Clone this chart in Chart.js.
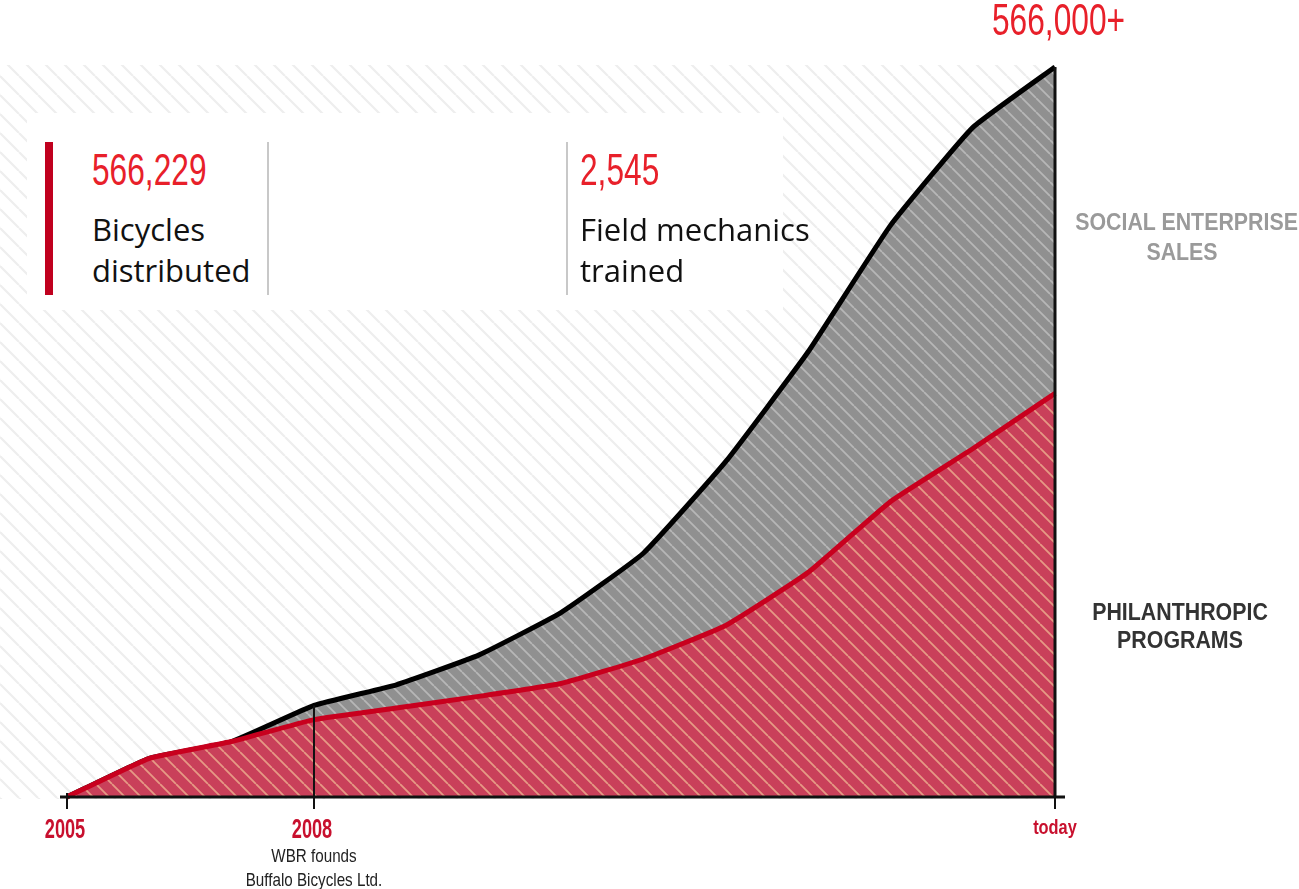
<!DOCTYPE html>
<html>
<head>
<meta charset="utf-8">
<script src="https://cdn.jsdelivr.net/npm/chart.js@4.4.1/dist/chart.umd.min.js"></script>
<style>
  body { margin: 0; background: #fff; }
  #wrap { position: relative; width: 1299px; height: 889px; overflow: hidden; }
  canvas { position: absolute; left: 0; top: 0; }
  .narrow { font-family: 'Liberation Sans', Arial, sans-serif; white-space: nowrap; }
  #card { position: absolute; left: 27px; top: 113px; width: 756px; height: 197px; background: #fff; }
  .bar { position: absolute; top: 29px; height: 153px; }
  .stat { position: absolute; top: 35px; white-space: nowrap; }
  .stat .num { color: #e8202a; font-size: 44px; line-height: 44px; transform: scaleX(0.72); transform-origin: left center; }
  .stat .txt { font-family: 'Open Sans', 'Noto Sans', sans-serif; font-size: 31px; line-height: 41px; color: #111; margin-top: 17px; }
  .side { position: absolute; font-weight: bold; font-size: 24px; line-height: 29px; text-align: center; transform: scaleX(0.89); transform-origin: center; }
</style>
</head>
<body>
<div id="wrap">
  <canvas id="areaChart" width="1299" height="889"></canvas>

  <div class="narrow" style="position:absolute; left:992px; top:-2px; color:#e8202a; font-size:44px; line-height:44px; transform:scaleX(0.72); transform-origin:left center;">566,000+</div>

  <div id="card">
    <div class="bar" style="left:18px; width:8px; background:#c0001e;"></div>
    <div class="stat" style="left:65px;">
      <div class="num narrow">566,229</div>
      <div class="txt">Bicycles<br>distributed</div>
    </div>
    <div class="bar" style="left:240px; width:2px; background:#c8c8c8;"></div>
    <div class="bar" style="left:539px; width:2px; background:#c8c8c8;"></div>
    <div class="stat" style="left:553px;">
      <div class="num narrow">2,545</div>
      <div class="txt">Field mechanics<br>trained</div>
    </div>
  </div>

  <div class="side narrow" style="left:1062px; top:207px; width:240px; line-height:30px; color:#9a9a9a;">SOCIAL ENTERPRISE<br>SALES</div>
  <div class="side narrow" style="left:1060px; top:598px; width:240px; line-height:28px; color:#333;">PHILANTHROPIC<br>PROGRAMS</div>
</div>

<script>
// data
const years = ['2005', '2006', '2007', '2008', '2009', '2010', '2011', '2012', '2013', '2014', '2015', '2016', 'today'];
const shownYears = ['2005', '2008', 'today'];
const philanthropic = [0, 30000, 43000, 60000, 69000, 78000, 88000, 107000, 133000, 174000, 229000, 270000, 313000];
const totalBikes = [0, 30000, 43000, 71000, 87000, 110000, 143000, 189000, 260000, 345000, 443000, 519000, 566000];
const yMax = 566000;

const sans = "'Liberation Sans', Arial, sans-serif";

// striped fill patterns
function stripes(base, line, size, width) {
  const c = document.createElement('canvas');
  c.width = size;
  c.height = size;
  const g = c.getContext('2d');
  if (base) {
    g.fillStyle = base;
    g.fillRect(0, 0, size, size);
  }
  g.strokeStyle = line;
  g.lineWidth = width;
  g.beginPath();
  for (let k = -1; k <= 1; k++) {
    g.moveTo(k * size, 0);
    g.lineTo(k * size + size, size);
  }
  g.stroke();
  return g.createPattern(c, 'repeat');
}

// squeezed text, the original uses a condensed face
function narrowText(c, txt, x, y, font, squeeze) {
  c.save();
  c.translate(x, y);
  c.scale(squeeze, 1);
  c.font = font;
  c.textAlign = 'center';
  c.textBaseline = 'alphabetic';
  c.fillText(txt, 0, 0);
  c.restore();
}

const ctx = document.getElementById('areaChart').getContext('2d');
const redFill = stripes('#c9405a', '#e69a85', 16, 1.8);
const greyFill = stripes('#909090', '#b7b7b7', 14, 1.8);
const bgFill = stripes(null, '#eeeeee', 19, 2.2);

// hatch behind the plot
const backdrop = {
  id: 'backdrop',
  beforeDraw(chart) {
    const a = chart.chartArea;
    const c = chart.ctx;
    c.save();
    c.fillStyle = bgFill;
    c.fillRect(0, a.top - 2, a.right, a.bottom - a.top + 4);
    c.restore();
  }
};

// axis, ticks, labels, marker lines and the note under 2008
const extras = {
  id: 'extras',
  afterDatasetsDraw(chart) {
    const c = chart.ctx;
    const x = chart.scales.x;
    const y = chart.scales.y;
    const base = y.getPixelForValue(0);
    c.save();
    c.lineCap = 'butt';

    // 2008 marker
    const i08 = years.indexOf('2008');
    const x08 = x.getPixelForValue(i08);
    c.strokeStyle = '#111';
    c.lineWidth = 2;
    c.beginPath();
    c.moveTo(x08, base);
    c.lineTo(x08, y.getPixelForValue(totalBikes[i08]));
    c.stroke();

    // right edge
    const last = years.length - 1;
    const xr = x.getPixelForValue(last);
    c.lineWidth = 3;
    c.beginPath();
    c.moveTo(xr, base);
    c.lineTo(xr, y.getPixelForValue(totalBikes[last]));
    c.stroke();

    // baseline
    c.lineWidth = 3;
    c.beginPath();
    c.moveTo(x.getPixelForValue(0) - 7, base);
    c.lineTo(xr + 10, base);
    c.stroke();

    // tick marks + labels
    c.lineWidth = 2;
    shownYears.forEach(function(yr) {
      const px = x.getPixelForValue(years.indexOf(yr));
      c.beginPath();
      c.moveTo(px, base - 4);
      c.lineTo(px, base + 12);
      c.stroke();
      c.fillStyle = '#c8102e';
      if (yr === 'today') {
        narrowText(c, yr, px, 834, 'bold 21px ' + sans, 0.78);
      } else {
        narrowText(c, yr, px - 2, 838, 'bold 28px ' + sans, 0.65);
      }
    });

    // note
    c.fillStyle = '#222';
    narrowText(c, 'WBR founds', x08, 862, '19px ' + sans, 0.8);
    narrowText(c, 'Buffalo Bicycles Ltd.', x08, 886, '19px ' + sans, 0.8);
    c.restore();
  }
};

const areaChart = new Chart(ctx, {
  type: 'line',
  data: {
    labels: years,
    datasets: [{
      label: 'Philanthropic programs',
      data: philanthropic,
      borderColor: '#c8001e',
      borderWidth: 5,
      backgroundColor: redFill,
      fill: 'origin',
      pointRadius: 0,
      tension: 0.12,
      clip: false
    }, {
      label: 'Social enterprise sales',
      data: totalBikes,
      borderColor: '#000',
      borderWidth: 5,
      backgroundColor: greyFill,
      fill: '-1',
      pointRadius: 0,
      tension: 0.12,
      clip: false
    }]
  },
  options: {
    responsive: false,
    animation: false,
    layout: {
      padding: { left: 67, right: 244, top: 67, bottom: 0 }
    },
    scales: {
      x: {
        grid: { display: false },
        border: { display: false },
        ticks: { display: false },
        afterFit: function(scale) { scale.height = 92; }
      },
      y: {
        display: false,
        min: 0,
        max: yMax
      }
    },
    plugins: {
      legend: { display: false },
      tooltip: { enabled: false }
    }
  },
  plugins: [backdrop, extras]
});
</script>
</body>
</html>
